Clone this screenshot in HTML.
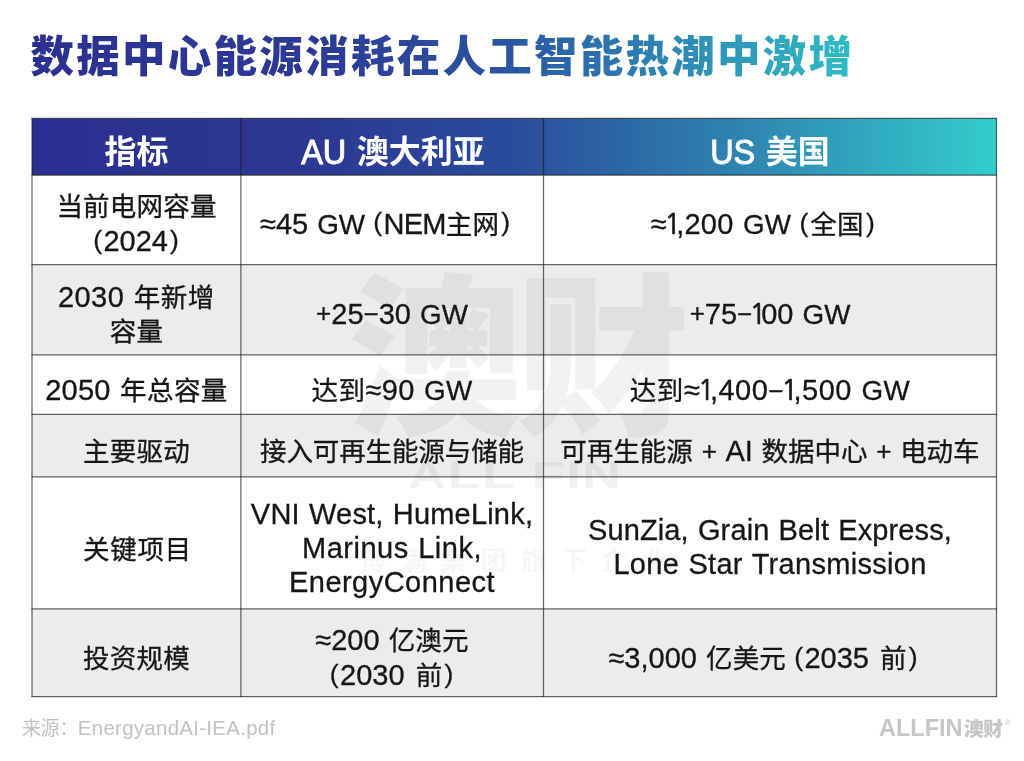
<!DOCTYPE html>
<html lang="zh-CN">
<head>
<meta charset="utf-8">
<title>数据中心能源消耗在人工智能热潮中激增</title>
<style>
html,body{margin:0;padding:0;}
body{width:1024px;height:761px;position:relative;overflow:hidden;background:#fff;
 font-family:"Liberation Sans","Noto Sans CJK SC",sans-serif;color:#161616;}
.abs{position:absolute;}
.c{font-family:"Noto Sans CJK SC","Liberation Sans",sans-serif;}
#title{left:30.5px;top:23px;height:62px;line-height:62px;font-size:43.5px;font-weight:900;white-space:nowrap;
 font-family:"Noto Sans CJK SC","Liberation Sans",sans-serif;letter-spacing:2.27px;
 background:linear-gradient(90deg,#2b3190 0%,#2b3a96 35%,#2a55a2 58%,#2e8db6 80%,#30bcc4 100%);
 -webkit-background-clip:text;background-clip:text;color:transparent;width:823px;}
.h{position:absolute;top:132.5px;height:36px;line-height:36px;text-align:center;color:#fff;font-size:32.5px;white-space:nowrap;}
.h .c{font-size:32px;font-weight:700;line-height:1;}
.h .a{display:inline-block;transform:scaleY(1.09);transform-origin:50% 82%;-webkit-text-stroke:0.9px #fff;position:relative;top:1.5px;margin-right:1.5px;}
.l{position:absolute;height:34px;line-height:34px;text-align:center;font-size:29px;white-space:nowrap;word-spacing:1px;-webkit-text-stroke:0.3px #161616;}
.l .c{font-size:26.5px;letter-spacing:calc(0.2px + var(--ls, 0px));line-height:1;}
.l .s{font-size:26px;position:relative;top:-1.5px;}
.l .m{top:-0.5px;}
.one{font-family:"NanumGothic","Liberation Sans",sans-serif;font-size:27.9px;margin:0 -5.2px 0 -2.8px;-webkit-text-stroke:0.7px #161616;}
.gw{font-size:27.8px;}
.p{font-size:26.5px;position:relative;top:-2.5px;}
.po{margin:0 1.5px 0 -1px;}
.pc{margin:0 0 0 2px;}
.pad{display:inline-block;width:14px;}
#src{left:22px;top:711.5px;font-size:20.4px;line-height:30px;color:#c2c2c2;white-space:nowrap;letter-spacing:0.32px;}
#src .c{font-size:19px;letter-spacing:-0.4px;}
#logo{left:879px;top:713px;font-size:23.5px;line-height:30px;color:#c6c6c6;font-weight:700;white-space:nowrap;letter-spacing:0px;}
#logo .c{font-size:19.8px;font-weight:900;letter-spacing:-0.5px;margin-left:1.5px;}
.wm{position:absolute;white-space:nowrap;color:rgba(0,0,0,0.05);}
</style>
</head>
<body>
<div id="title" class="abs">数据中心能源消耗在人工智能热潮中激增</div>

<svg class="abs" style="left:0;top:0;" width="1024" height="761" viewBox="0 0 1024 761">
<defs><linearGradient id="hg" x1="0" y1="0" x2="1" y2="0">
<stop offset="0" stop-color="#2a2f8f"/><stop offset="0.30" stop-color="#2b3993"/><stop offset="0.50" stop-color="#2a4c9c"/><stop offset="0.75" stop-color="#2f88b2"/><stop offset="1" stop-color="#32cdcd"/>
</linearGradient></defs>
<rect x="32" y="118.4" width="964.5" height="56.8" fill="url(#hg)"/>
<rect x="32" y="264.6" width="964.5" height="90.3" fill="#ececec"/>
<rect x="32" y="414.4" width="964.5" height="62.5" fill="#ececec"/>
<rect x="32" y="608.8" width="964.5" height="87.8" fill="#ececec"/>
</svg>

<div class="wm c" style="left:348px;top:225px;font-size:174px;line-height:240px;font-weight:900;letter-spacing:-6px;">澳财</div>
<div class="wm" style="left:411px;top:449px;width:208px;text-align:center;font-size:36.5px;line-height:54px;font-weight:700;"><span style="display:inline-block;transform:scaleX(1.47);letter-spacing:1px;">ALL FIN</span></div>
<div class="wm c" style="left:360px;top:539px;font-size:26px;line-height:40px;font-weight:700;letter-spacing:14.2px;color:rgba(0,0,0,0.035);">博满集团旗下企业</div>

<div class="h" id="H0" style="left:32px;width:209px;"><span class="c">指标</span></div>
<div class="h" id="H1" style="left:242px;width:302px;"><span class="a">AU</span> <span class="c">澳大利亚</span></div>
<div class="h" id="H2" style="left:543px;width:454px;"><span class="a">US</span> <span class="c">美国</span></div>

<div class="l" id="L0" style="left:32px;width:209px;top:189.0px;"><span class="c">当前电网容量</span></div>
<div class="l" id="L1" style="left:32px;width:209px;top:224.0px;"><span class="p po">(</span>2024<span class="p pc">)</span></div>
<div class="l" id="L2" style="left:241px;width:302px;top:206.8px;">≈45 <span class="gw">GW</span> <span class="p po">(</span><span style="letter-spacing:-0.7px">NEM</span><span class="c">主网</span><span class="p pc">)</span><span class="pad"></span></div>
<div class="l" id="L3" style="left:543px;width:454px;top:207.0px;letter-spacing:0.25px;--ls:0.25px;">≈<span class="one">1</span>,200 <span class="gw">GW</span> <span class="p po">(</span><span class="c">全国</span><span class="p pc">)</span><span class="pad"></span></div>
<div class="l" id="L4" style="left:32px;width:209px;top:280.0px;letter-spacing:0.4px;--ls:0.4px;">2030 <span class="c">年新增</span></div>
<div class="l" id="L5" style="left:32px;width:209px;top:314.0px;"><span class="c">容量</span></div>
<div class="l" id="L6" style="left:241px;width:302px;top:296.6px;"><span class="s">+</span>25<span class="s m">−</span>30 <span class="gw">GW</span></div>
<div class="l" id="L7" style="left:543px;width:454px;top:296.6px;"><span class="s">+</span>75<span class="s m">−</span><span class="one">1</span>00 <span class="gw">GW</span></div>
<div class="l" id="L8" style="left:32px;width:209px;top:373.0px;letter-spacing:0.25px;--ls:0.25px;">2050 <span class="c">年总容量</span></div>
<div class="l" id="L9" style="left:241px;width:302px;top:373.0px;letter-spacing:0.3px;--ls:0.3px;"><span class="c">达到</span>≈90 <span class="gw">GW</span></div>
<div class="l" id="L10" style="left:543px;width:454px;top:373.0px;letter-spacing:0.5px;--ls:0.5px;"><span class="c">达到</span>≈<span class="one">1</span>,400<span class="s m">−</span><span class="one">1</span>,500 <span class="gw">GW</span></div>
<div class="l" id="L11" style="left:32px;width:209px;top:434.0px;"><span class="c">主要驱动</span></div>
<div class="l" id="L12" style="left:241px;width:302px;top:434.0px;letter-spacing:-0.3px;--ls:-0.3px;"><span class="c">接入可再生能源与储能</span></div>
<div class="l" id="L13" style="left:543px;width:454px;top:434.4px;letter-spacing:-0.2px;--ls:-0.2px;"><span class="c">可再生能源</span> <span class="s">+</span> AI <span class="c">数据中心</span> <span class="s">+</span> <span class="c">电动车</span></div>
<div class="l" id="L14" style="left:33px;width:209px;top:532.0px;letter-spacing:0.6px;--ls:0.6px;"><span class="c">关键项目</span></div>
<div class="l" id="L15" style="left:241px;width:302px;top:497.0px;letter-spacing:0.19px;--ls:0.19px;">VNI West, HumeLink,</div>
<div class="l" id="L16" style="left:241px;width:302px;top:531.0px;letter-spacing:0.5px;--ls:0.5px;">Marinus Link,</div>
<div class="l" id="L17" style="left:241px;width:302px;top:565.0px;letter-spacing:0.47px;--ls:0.47px;">EnergyConnect</div>
<div class="l" id="L18" style="left:543px;width:454px;top:513.3px;letter-spacing:0.12px;--ls:0.12px;">SunZia, Grain Belt Express,</div>
<div class="l" id="L19" style="left:543px;width:454px;top:547.2px;letter-spacing:0.3px;--ls:0.3px;">Lone Star Transmission</div>
<div class="l" id="L20" style="left:32px;width:209px;top:641.0px;"><span class="c">投资规模</span></div>
<div class="l" id="L21" style="left:241px;width:302px;top:623.0px;">≈200 <span class="c">亿澳元</span></div>
<div class="l" id="L22" style="left:241px;width:302px;top:658.0px;"><span class="p po">(</span>2030 <span class="c" style="margin-left:2px">前</span><span class="p pc">)</span></div>
<div class="l" id="L23" style="left:543px;width:454px;top:641.4px;">≈3,000 <span class="c">亿美元</span> <span class="p po">(</span>2035 <span class="c" style="margin-left:2px">前</span><span class="p pc">)</span><span class="pad"></span></div>

<svg class="abs" style="left:0;top:0;" width="1024" height="761" viewBox="0 0 1024 761">
<g stroke="#1e1e1e" stroke-opacity="0.68" stroke-width="1.25">
<line x1="31.5" y1="118.4" x2="997" y2="118.4"/>
<line x1="31.5" y1="175.2" x2="997" y2="175.2"/>
<line x1="31.5" y1="264.6" x2="997" y2="264.6"/>
<line x1="31.5" y1="354.9" x2="997" y2="354.9"/>
<line x1="31.5" y1="414.4" x2="997" y2="414.4"/>
<line x1="31.5" y1="476.9" x2="997" y2="476.9"/>
<line x1="31.5" y1="608.8" x2="997" y2="608.8"/>
<line x1="31.5" y1="696.6" x2="997" y2="696.6"/>
<line x1="32.0" y1="118" x2="32.0" y2="697"/>
<line x1="240.9" y1="118" x2="240.9" y2="697"/>
<line x1="543.5" y1="118" x2="543.5" y2="697"/>
<line x1="996.5" y1="118" x2="996.5" y2="697"/>
</g>
</svg>

<div id="src" class="abs"><span class="c">来源：</span>EnergyandAI-IEA.pdf</div>
<div id="logo" class="abs">ALLFIN<span class="c">澳财</span><span style="font-size:8px;font-weight:400;position:relative;top:-11px;margin-left:2px;">®</span></div>
</body>
</html>
